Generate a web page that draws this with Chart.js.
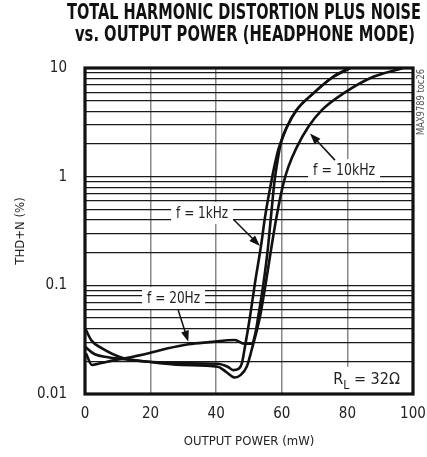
<!DOCTYPE html>
<html><head><meta charset="utf-8">
<script src="https://cdn.jsdelivr.net/npm/chart.js@4.4.0/dist/chart.umd.min.js"></script>
<style>html,body{margin:0;padding:0;background:#fff}#wrap{width:427px;height:457px;position:relative}</style>
</head><body><div id="wrap"><canvas id="c"></canvas></div>
<script>
// ---------- data ----------
const titleLines = ['TOTAL HARMONIC DISTORTION PLUS NOISE', 'vs. OUTPUT POWER (HEADPHONE MODE)'];
const xTitle = 'OUTPUT POWER (mW)';
const yTitle = 'THD+N (%)';
const xTickLabels = ['0', '20', '40', '60', '80', '100'];
const yTickLabels = ['0.01', '0.1', '1', '10'];

const power20Hz = [0.3, 2.1, 5, 9.2, 12.2, 19.4, 25, 31.6, 38, 45.7, 48.5, 50.8, 52, 52.8, 54.4, 55.7, 56.7, 57.7, 58.4, 59.8, 61.6, 64.5, 69.6, 75.7, 80.8];
const thd20Hz   = [0.0237, 0.0185, 0.0193, 0.0205, 0.0213, 0.0237, 0.0262, 0.0287, 0.0300, 0.0314, 0.0290, 0.0290, 0.037, 0.0514, 0.104, 0.211, 0.428, 0.867, 1.23, 2.10, 2.88, 4.10, 5.84, 8.30, 10];

const power1kHz = [0, 3, 7, 11.3, 19.4, 30, 40.5, 43.5, 45.2, 46.8, 47.8, 48.6, 50.3, 51.8, 53.7, 54.9, 56.7, 57.7, 58.9, 59.8, 61.6, 64.5, 69.6, 75.7, 80.8];
const thd1kHz   = [0.0272, 0.0232, 0.0218, 0.0210, 0.0198, 0.0192, 0.0190, 0.0178, 0.0166, 0.0170, 0.0190, 0.0254, 0.0514, 0.104, 0.235, 0.428, 0.867, 1.23, 1.76, 2.10, 2.88, 4.10, 5.84, 8.30, 10];

const power10kHz = [0, 2, 5.2, 11.3, 19.4, 29.6, 40.5, 43, 45.7, 47.5, 49.3, 50.8, 53.35, 55.1, 56.7, 58.4, 60.5, 62, 64.5, 68.1, 72.2, 78.8, 87.9, 97];
const thd10kHz   = [0.0405, 0.031, 0.0263, 0.0216, 0.0198, 0.0185, 0.0178, 0.0160, 0.0142, 0.0150, 0.0178, 0.0254, 0.0514, 0.104, 0.211, 0.428, 0.867, 1.23, 1.85, 2.88, 4.10, 5.84, 8.30, 10];

// annotation anchors in data units
const notes = [
  { text: 'f = 1kHz',  x: 35.7, y: 0.462,  w: 52, from: [45.2, 0.405],  to: [53.35, 0.230] },
  { text: 'f = 10kHz', x: 79.0, y: 1.15,   w: 62, from: [76.2, 1.42],   to: [68.6, 2.50] },
  { text: 'f = 20Hz',  x: 27.0, y: 0.0764, w: 53, from: [28.4, 0.0593], to: [31.5, 0.0303] }
];
const loadNote = { main: 'R', sub: 'L', rest: ' = 32\u03A9', xRight: 96, y: 0.0135 };
const sideNote = 'MAX9789 toc26';

// ---------- helpers ----------
const NARROW = "'Liberation Sans Narrow','Arial Narrow','DejaVu Sans Condensed',sans-serif";
const pairs = (xs, ys) => xs.map((x, i) => ({ x: x, y: ys[i] }));
const yGridValues = [];
[0.01, 0.1, 1].forEach(d => { for (let m = 1; m <= 9; m++) yGridValues.push(+(m * d).toPrecision(3)); });
yGridValues.push(10);

const lineStyle = { borderColor: '#111', borderWidth: 2.6, pointRadius: 0, fill: false, cubicInterpolationMode: 'monotone' };

function arrow(ctx, x1, y1, x2, y2) {
  const a = Math.atan2(y2 - y1, x2 - x1), L = 11, W = 4;
  ctx.beginPath(); ctx.moveTo(x1, y1);
  ctx.lineTo(x2 - Math.cos(a) * L * 0.8, y2 - Math.sin(a) * L * 0.8); ctx.stroke();
  ctx.beginPath(); ctx.moveTo(x2, y2);
  ctx.lineTo(x2 - Math.cos(a) * L + Math.sin(a) * W, y2 - Math.sin(a) * L - Math.cos(a) * W);
  ctx.lineTo(x2 - Math.cos(a) * L - Math.sin(a) * W, y2 - Math.sin(a) * L + Math.cos(a) * W);
  ctx.closePath(); ctx.fill();
}

const decor = {
  id: 'decor',
  beforeDraw(chart) {
    const ctx = chart.ctx; ctx.save(); ctx.fillStyle = '#fff';
    ctx.fillRect(0, 0, chart.width, chart.height); ctx.restore();
  },
  beforeDatasetsDraw(chart) {
    const ctx = chart.ctx, xs = chart.scales.x, ys = chart.scales.y;
    ctx.save();
    ctx.font = '16px ' + NARROW; ctx.textAlign = 'center'; ctx.textBaseline = 'middle';
    notes.forEach(n => {
      const px = xs.getPixelForValue(n.x), py = ys.getPixelForValue(n.y);
      const w = Math.min(ctx.measureText(n.text).width, n.w);
      ctx.fillStyle = '#fff'; ctx.fillRect(px - w / 2 - 5, py - 11, w + 10, 22);
      ctx.fillStyle = '#222'; ctx.fillText(n.text, px, py + 1, n.w);
    });
    // load resistance note
    const rx = xs.getPixelForValue(loadNote.xRight), ry = ys.getPixelForValue(loadNote.y);
    ctx.textAlign = 'left';
    ctx.font = '16px ' + NARROW; const wR = ctx.measureText(loadNote.main).width;
    const wRest = ctx.measureText(loadNote.rest).width;
    ctx.font = '12px ' + NARROW; const wL = ctx.measureText(loadNote.sub).width;
    const total = wR + wL + wRest, x0 = rx - total;
    ctx.fillStyle = '#fff'; ctx.fillRect(x0 - 4, ry - 13, total + 8, 28);
    ctx.fillStyle = '#222';
    ctx.font = '16px ' + NARROW; ctx.fillText(loadNote.main, x0, ry);
    ctx.font = '12px ' + NARROW; ctx.fillText(loadNote.sub, x0 + wR, ry + 6);
    ctx.font = '16px ' + NARROW; ctx.fillText(loadNote.rest, x0 + wR + wL, ry);
    ctx.restore();
  },
  afterDatasetsDraw(chart) {
    const ctx = chart.ctx, xs = chart.scales.x, ys = chart.scales.y, a = chart.chartArea;
    ctx.save();
    ctx.strokeStyle = '#111'; ctx.fillStyle = '#111'; ctx.lineWidth = 1.5;
    notes.forEach(n => {
      arrow(ctx, xs.getPixelForValue(n.from[0]), ys.getPixelForValue(n.from[1]),
                 xs.getPixelForValue(n.to[0]), ys.getPixelForValue(n.to[1]));
    });
    ctx.lineWidth = 3.2; ctx.strokeStyle = '#111';
    ctx.strokeRect(a.left, a.top, a.right - a.left, a.bottom - a.top);
    // side note
    ctx.translate(a.right + 8, a.top + 34); ctx.rotate(-Math.PI / 2);
    ctx.font = '11px ' + NARROW; ctx.fillStyle = '#555'; ctx.textAlign = 'center'; ctx.textBaseline = 'middle';
    ctx.fillText(sideNote, 0, 0, 66);
    ctx.restore();
  },
  afterDraw(chart) {
    const ctx = chart.ctx; ctx.save();
    ctx.fillStyle = '#111'; ctx.textAlign = 'center'; ctx.textBaseline = 'middle';
    ctx.font = 'bold 21px ' + NARROW;
    ctx.fillText(titleLines[0], 244, 14, 354);
    ctx.fillText(titleLines[1], 245, 36, 340);
    ctx.restore();
  }
};

new Chart(document.getElementById('c'), {
  type: 'line',
  data: {
    datasets: [
      Object.assign({ label: 'f = 20Hz',  data: pairs(power20Hz, thd20Hz) }, lineStyle),
      Object.assign({ label: 'f = 1kHz',  data: pairs(power1kHz, thd1kHz) }, lineStyle),
      Object.assign({ label: 'f = 10kHz', data: pairs(power10kHz, thd10kHz) }, lineStyle)
    ]
  },
  options: {
    responsive: true, maintainAspectRatio: false, animation: false,
    layout: { padding: { top: 68, right: 14, left: 0, bottom: 0 } },
    plugins: { legend: { display: false }, tooltip: { enabled: false }, title: { display: false } },
    scales: {
      x: {
        type: 'linear', min: 0, max: 100,
        afterFit: s => { s.height = 63; s.paddingLeft = 0; s.paddingRight = 0; },
        border: { display: false },
        grid: { color: '#888', lineWidth: 1.5, drawTicks: false },
        ticks: { stepSize: 20, padding: 11, color: '#222', font: { family: NARROW, size: 15 },
                 callback: (v, i) => xTickLabels[i] },
        title: { display: true, text: xTitle, color: '#222', font: { family: NARROW, size: 13 }, padding: { top: 0, bottom: 8 } }
      },
      y: {
        type: 'logarithmic', min: 0.01, max: 10,
        afterFit: s => { s.width = 85; s.paddingTop = 0; s.paddingBottom = 0; },
        afterBuildTicks: s => { s.ticks = yGridValues.map(v => ({ value: v })); },
        border: { display: false },
        grid: { color: '#1a1a1a', lineWidth: 1.2, drawTicks: false },
        ticks: { autoSkip: false, padding: 18, color: '#222', font: { family: NARROW, size: 15 },
                 callback: v => { const s = yTickLabels.find(t => Math.abs(parseFloat(t) / v - 1) < 1e-6); return s === undefined ? '' : s; } },
        title: { display: true, text: yTitle, color: '#222', font: { family: NARROW, size: 13 }, padding: { top: 13, bottom: 0 } }
      }
    }
  },
  plugins: [decor]
});
</script>
</body></html>
